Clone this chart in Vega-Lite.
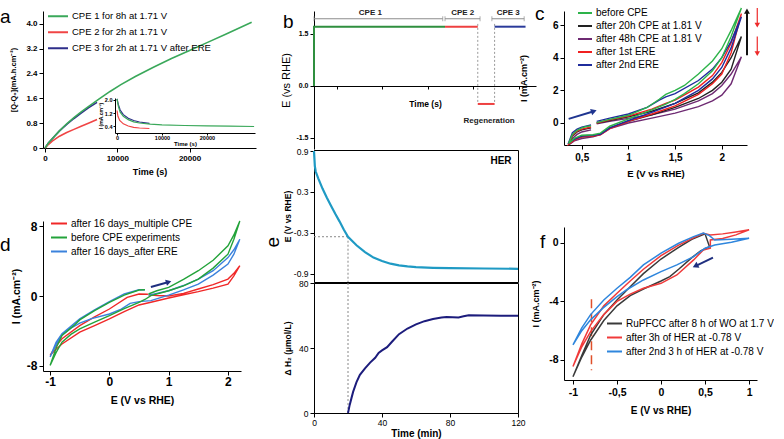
{
"$schema": "https://vega.github.io/schema/vega-lite/v6.json",
"padding": {"left": 0, "top": 5, "right": 0, "bottom": 0},
"background": "white",
"config": {
  "view": {"stroke": null},
  "font": "Liberation Sans",
  "axis": {"grid": false, "domainColor": "#000", "tickColor": "#000", "labelColor": "#000", "titleColor": "#000", "labelFont": "Liberation Sans", "titleFont": "Liberation Sans", "labelFontWeight": "bold", "titleFontWeight": "bold", "labelFlush": false, "labelOverlap": false, "tickSize": 4, "labelPadding": 2},
  "legend": {"labelFont": "Liberation Sans", "labelColor": "#000", "symbolType": "stroke", "symbolStrokeWidth": 2, "padding": 0, "rowPadding": 2, "labelOffset": 3},
  "title": {"font": "Liberation Sans", "fontWeight": "normal", "fontSize": 19, "anchor": "start", "frame": "bounds", "offset": 0, "baseline": "alphabetic", "color": "#000"}
},
"datasets": {
  "a": [
    {"s":"CPE 3 for 2h at 1.71 V after ERE","t":0,"q":0},{"s":"CPE 3 for 2h at 1.71 V after ERE","t":500,"q":0.17},{"s":"CPE 3 for 2h at 1.71 V after ERE","t":1000,"q":0.3},{"s":"CPE 3 for 2h at 1.71 V after ERE","t":2000,"q":0.55},{"s":"CPE 3 for 2h at 1.71 V after ERE","t":3000,"q":0.76},{"s":"CPE 3 for 2h at 1.71 V after ERE","t":4000,"q":0.95},{"s":"CPE 3 for 2h at 1.71 V after ERE","t":5000,"q":1.12},{"s":"CPE 3 for 2h at 1.71 V after ERE","t":6000,"q":1.29},{"s":"CPE 3 for 2h at 1.71 V after ERE","t":7200,"q":1.47},
    {"s":"CPE 2 for 2h at 1.71 V","t":0,"q":0},{"s":"CPE 2 for 2h at 1.71 V","t":500,"q":0.12},{"s":"CPE 2 for 2h at 1.71 V","t":1000,"q":0.22},{"s":"CPE 2 for 2h at 1.71 V","t":2000,"q":0.38},{"s":"CPE 2 for 2h at 1.71 V","t":3000,"q":0.5},{"s":"CPE 2 for 2h at 1.71 V","t":4000,"q":0.6},{"s":"CPE 2 for 2h at 1.71 V","t":5000,"q":0.7},{"s":"CPE 2 for 2h at 1.71 V","t":6000,"q":0.8},{"s":"CPE 2 for 2h at 1.71 V","t":7200,"q":0.92},
    {"s":"CPE 1 for 8h at 1.71 V","t":0,"q":0},{"s":"CPE 1 for 8h at 1.71 V","t":500,"q":0.17},{"s":"CPE 1 for 8h at 1.71 V","t":1000,"q":0.3},{"s":"CPE 1 for 8h at 1.71 V","t":2000,"q":0.55},{"s":"CPE 1 for 8h at 1.71 V","t":3000,"q":0.78},{"s":"CPE 1 for 8h at 1.71 V","t":4000,"q":0.98},{"s":"CPE 1 for 8h at 1.71 V","t":5000,"q":1.16},{"s":"CPE 1 for 8h at 1.71 V","t":6000,"q":1.33},{"s":"CPE 1 for 8h at 1.71 V","t":7500,"q":1.58},{"s":"CPE 1 for 8h at 1.71 V","t":9000,"q":1.82},{"s":"CPE 1 for 8h at 1.71 V","t":10500,"q":2.04},{"s":"CPE 1 for 8h at 1.71 V","t":12500,"q":2.3},{"s":"CPE 1 for 8h at 1.71 V","t":15000,"q":2.6},{"s":"CPE 1 for 8h at 1.71 V","t":17500,"q":2.88},{"s":"CPE 1 for 8h at 1.71 V","t":20000,"q":3.14},{"s":"CPE 1 for 8h at 1.71 V","t":22500,"q":3.4},{"s":"CPE 1 for 8h at 1.71 V","t":25000,"q":3.66},{"s":"CPE 1 for 8h at 1.71 V","t":28600,"q":4.05}
  ],
  "ai": [
    {"s":"CPE 3 for 2h at 1.71 V after ERE","t":0,"i":2.05},{"s":"CPE 3 for 2h at 1.71 V after ERE","t":300,"i":1.7},{"s":"CPE 3 for 2h at 1.71 V after ERE","t":700,"i":1.38},{"s":"CPE 3 for 2h at 1.71 V after ERE","t":1400,"i":1.1},{"s":"CPE 3 for 2h at 1.71 V after ERE","t":2500,"i":0.88},{"s":"CPE 3 for 2h at 1.71 V after ERE","t":3700,"i":0.75},{"s":"CPE 3 for 2h at 1.71 V after ERE","t":5000,"i":0.66},{"s":"CPE 3 for 2h at 1.71 V after ERE","t":7200,"i":0.58},
    {"s":"CPE 2 for 2h at 1.71 V","t":0,"i":1.35},{"s":"CPE 2 for 2h at 1.71 V","t":200,"i":1.0},{"s":"CPE 2 for 2h at 1.71 V","t":600,"i":0.75},{"s":"CPE 2 for 2h at 1.71 V","t":1400,"i":0.55},{"s":"CPE 2 for 2h at 1.71 V","t":2500,"i":0.42},{"s":"CPE 2 for 2h at 1.71 V","t":3700,"i":0.34},{"s":"CPE 2 for 2h at 1.71 V","t":5000,"i":0.3},{"s":"CPE 2 for 2h at 1.71 V","t":7200,"i":0.27},
    {"s":"CPE 1 for 8h at 1.71 V","t":0,"i":2.05},{"s":"CPE 1 for 8h at 1.71 V","t":300,"i":1.6},{"s":"CPE 1 for 8h at 1.71 V","t":700,"i":1.25},{"s":"CPE 1 for 8h at 1.71 V","t":1400,"i":1.0},{"s":"CPE 1 for 8h at 1.71 V","t":2500,"i":0.8},{"s":"CPE 1 for 8h at 1.71 V","t":3700,"i":0.67},{"s":"CPE 1 for 8h at 1.71 V","t":5000,"i":0.6},{"s":"CPE 1 for 8h at 1.71 V","t":7400,"i":0.53},{"s":"CPE 1 for 8h at 1.71 V","t":10000,"i":0.49},{"s":"CPE 1 for 8h at 1.71 V","t":15000,"i":0.45},{"s":"CPE 1 for 8h at 1.71 V","t":20000,"i":0.43},{"s":"CPE 1 for 8h at 1.71 V","t":25000,"i":0.41},{"s":"CPE 1 for 8h at 1.71 V","t":30500,"i":0.39}
  ],
  "b": [
    {"s":"g","t":0,"e":0,"o":1},{"s":"g","t":0,"e":1.71,"o":2},{"s":"g","t":28800,"e":1.71,"o":3},
    {"s":"r","t":28800,"e":1.71,"o":1},{"s":"r","t":36000,"e":1.71,"o":2},
    {"s":"rg","t":36000,"e":-0.52,"o":1},{"s":"rg","t":39700,"e":-0.52,"o":2},
    {"s":"bl","t":39700,"e":1.71,"o":1},{"s":"bl","t":46500,"e":1.71,"o":2}
  ],
  "bbr": [{"t1":0,"t2":28300,"y":1.94},{"t1":28800,"t2":36500,"y":1.94},{"t1":39100,"t2":46200,"y":1.94}],
  "bbrt": [{"t":0,"y":1.94},{"t":28300,"y":1.94},{"t":28800,"y":1.94},{"t":36500,"y":1.94},{"t":39100,"y":1.94},{"t":46200,"y":1.94}],
  "bdot": [{"t":36000,"y1":-0.46,"y2":1.85},{"t":39700,"y1":-0.46,"y2":1.85}],
  "blab": [{"t":12400,"y":2.1,"label":"CPE 1"},{"t":32700,"y":2.1,"label":"CPE 2"},{"t":42700,"y":2.1,"label":"CPE 3"},{"t":38500,"y":-1.0,"label":"Regeneration"}],
  "c": [
    {"s":"after 48h CPE at 1.81 V","o":1,"x":0.66,"y":-0.05},{"s":"after 48h CPE at 1.81 V","o":2,"x":0.8,"y":0.1},{"s":"after 48h CPE at 1.81 V","o":3,"x":1.0,"y":0.28},{"s":"after 48h CPE at 1.81 V","o":4,"x":1.25,"y":0.5},{"s":"after 48h CPE at 1.81 V","o":5,"x":1.5,"y":0.85},{"s":"after 48h CPE at 1.81 V","o":6,"x":1.75,"y":1.35},{"s":"after 48h CPE at 1.81 V","o":7,"x":1.9,"y":1.8},{"s":"after 48h CPE at 1.81 V","o":8,"x":2.0,"y":2.3},{"s":"after 48h CPE at 1.81 V","o":9,"x":2.1,"y":3.0},{"s":"after 48h CPE at 1.81 V","o":10,"x":2.21,"y":4.05},{"s":"after 48h CPE at 1.81 V","o":11,"x":2.1,"y":2.4},{"s":"after 48h CPE at 1.81 V","o":12,"x":2.0,"y":1.7},{"s":"after 48h CPE at 1.81 V","o":13,"x":1.9,"y":1.35},{"s":"after 48h CPE at 1.81 V","o":14,"x":1.75,"y":1.0},{"s":"after 48h CPE at 1.81 V","o":15,"x":1.5,"y":0.6},{"s":"after 48h CPE at 1.81 V","o":16,"x":1.25,"y":0.3},{"s":"after 48h CPE at 1.81 V","o":17,"x":1.0,"y":0.0},{"s":"after 48h CPE at 1.81 V","o":18,"x":0.8,"y":-0.35},{"s":"after 48h CPE at 1.81 V","o":19,"x":0.7,"y":-0.72},{"s":"after 48h CPE at 1.81 V","o":20,"x":0.62,"y":-0.85},{"s":"after 48h CPE at 1.81 V","o":21,"x":0.5,"y":-0.95},{"s":"after 48h CPE at 1.81 V","o":22,"x":0.42,"y":-1.1},{"s":"after 48h CPE at 1.81 V","o":23,"x":0.36,"y":-1.35},{"s":"after 48h CPE at 1.81 V","o":24,"x":0.4,"y":-0.95},{"s":"after 48h CPE at 1.81 V","o":25,"x":0.45,"y":-0.7},{"s":"after 48h CPE at 1.81 V","o":26,"x":0.5,"y":-0.55},{"s":"after 48h CPE at 1.81 V","o":27,"x":0.6,"y":-0.42},
    {"s":"after 20h CPE at 1.81 V","o":1,"x":0.66,"y":0.0},{"s":"after 20h CPE at 1.81 V","o":2,"x":0.8,"y":0.15},{"s":"after 20h CPE at 1.81 V","o":3,"x":1.0,"y":0.38},{"s":"after 20h CPE at 1.81 V","o":4,"x":1.25,"y":0.72},{"s":"after 20h CPE at 1.81 V","o":5,"x":1.5,"y":1.2},{"s":"after 20h CPE at 1.81 V","o":6,"x":1.75,"y":1.85},{"s":"after 20h CPE at 1.81 V","o":7,"x":1.9,"y":2.5},{"s":"after 20h CPE at 1.81 V","o":8,"x":2.0,"y":3.1},{"s":"after 20h CPE at 1.81 V","o":9,"x":2.1,"y":4.0},{"s":"after 20h CPE at 1.81 V","o":10,"x":2.21,"y":5.3},{"s":"after 20h CPE at 1.81 V","o":11,"x":2.1,"y":3.3},{"s":"after 20h CPE at 1.81 V","o":12,"x":2.0,"y":2.5},{"s":"after 20h CPE at 1.81 V","o":13,"x":1.9,"y":2.0},{"s":"after 20h CPE at 1.81 V","o":14,"x":1.75,"y":1.5},{"s":"after 20h CPE at 1.81 V","o":15,"x":1.5,"y":0.95},{"s":"after 20h CPE at 1.81 V","o":16,"x":1.25,"y":0.5},{"s":"after 20h CPE at 1.81 V","o":17,"x":1.0,"y":0.1},{"s":"after 20h CPE at 1.81 V","o":18,"x":0.8,"y":-0.3},{"s":"after 20h CPE at 1.81 V","o":19,"x":0.7,"y":-0.68},{"s":"after 20h CPE at 1.81 V","o":20,"x":0.62,"y":-0.8},{"s":"after 20h CPE at 1.81 V","o":21,"x":0.5,"y":-0.85},{"s":"after 20h CPE at 1.81 V","o":22,"x":0.42,"y":-1.0},{"s":"after 20h CPE at 1.81 V","o":23,"x":0.36,"y":-1.3},{"s":"after 20h CPE at 1.81 V","o":24,"x":0.4,"y":-0.8},{"s":"after 20h CPE at 1.81 V","o":25,"x":0.45,"y":-0.55},{"s":"after 20h CPE at 1.81 V","o":26,"x":0.5,"y":-0.42},{"s":"after 20h CPE at 1.81 V","o":27,"x":0.6,"y":-0.3},
    {"s":"after 1st ERE","o":1,"x":0.66,"y":0.0},{"s":"after 1st ERE","o":2,"x":0.8,"y":0.2},{"s":"after 1st ERE","o":3,"x":1.0,"y":0.42},{"s":"after 1st ERE","o":4,"x":1.25,"y":0.85},{"s":"after 1st ERE","o":5,"x":1.4,"y":1.2},{"s":"after 1st ERE","o":6,"x":1.5,"y":1.4},{"s":"after 1st ERE","o":7,"x":1.75,"y":2.2},{"s":"after 1st ERE","o":8,"x":1.9,"y":2.9},{"s":"after 1st ERE","o":9,"x":2.0,"y":3.7},{"s":"after 1st ERE","o":10,"x":2.1,"y":4.9},{"s":"after 1st ERE","o":11,"x":2.21,"y":6.7},{"s":"after 1st ERE","o":12,"x":2.1,"y":4.3},{"s":"after 1st ERE","o":13,"x":2.0,"y":3.0},{"s":"after 1st ERE","o":14,"x":1.9,"y":2.4},{"s":"after 1st ERE","o":15,"x":1.75,"y":1.75},{"s":"after 1st ERE","o":16,"x":1.5,"y":1.05},{"s":"after 1st ERE","o":17,"x":1.25,"y":0.55},{"s":"after 1st ERE","o":18,"x":1.0,"y":0.1},{"s":"after 1st ERE","o":19,"x":0.8,"y":-0.35},{"s":"after 1st ERE","o":20,"x":0.7,"y":-0.72},{"s":"after 1st ERE","o":21,"x":0.62,"y":-0.8},{"s":"after 1st ERE","o":22,"x":0.5,"y":-0.85},{"s":"after 1st ERE","o":23,"x":0.42,"y":-1.05},{"s":"after 1st ERE","o":24,"x":0.36,"y":-1.3},{"s":"after 1st ERE","o":25,"x":0.4,"y":-0.75},{"s":"after 1st ERE","o":26,"x":0.45,"y":-0.5},{"s":"after 1st ERE","o":27,"x":0.5,"y":-0.38},{"s":"after 1st ERE","o":28,"x":0.6,"y":-0.25},
    {"s":"after 2nd ERE","o":1,"x":0.66,"y":0.1},{"s":"after 2nd ERE","o":2,"x":0.8,"y":0.3},{"s":"after 2nd ERE","o":3,"x":1.0,"y":0.55},{"s":"after 2nd ERE","o":4,"x":1.2,"y":0.95},{"s":"after 2nd ERE","o":5,"x":1.33,"y":1.4},{"s":"after 2nd ERE","o":6,"x":1.4,"y":1.6},{"s":"after 2nd ERE","o":7,"x":1.5,"y":1.8},{"s":"after 2nd ERE","o":8,"x":1.75,"y":2.6},{"s":"after 2nd ERE","o":9,"x":1.9,"y":3.3},{"s":"after 2nd ERE","o":10,"x":2.0,"y":4.0},{"s":"after 2nd ERE","o":11,"x":2.1,"y":5.0},{"s":"after 2nd ERE","o":12,"x":2.21,"y":6.5},{"s":"after 2nd ERE","o":13,"x":2.1,"y":4.6},{"s":"after 2nd ERE","o":14,"x":2.0,"y":3.4},{"s":"after 2nd ERE","o":15,"x":1.9,"y":2.7},{"s":"after 2nd ERE","o":16,"x":1.75,"y":2.0},{"s":"after 2nd ERE","o":17,"x":1.5,"y":1.2},{"s":"after 2nd ERE","o":18,"x":1.25,"y":0.65},{"s":"after 2nd ERE","o":19,"x":1.0,"y":0.15},{"s":"after 2nd ERE","o":20,"x":0.8,"y":-0.3},{"s":"after 2nd ERE","o":21,"x":0.7,"y":-0.7},{"s":"after 2nd ERE","o":22,"x":0.62,"y":-0.75},{"s":"after 2nd ERE","o":23,"x":0.5,"y":-0.8},{"s":"after 2nd ERE","o":24,"x":0.42,"y":-1.0},{"s":"after 2nd ERE","o":25,"x":0.36,"y":-1.2},{"s":"after 2nd ERE","o":26,"x":0.4,"y":-0.6},{"s":"after 2nd ERE","o":27,"x":0.45,"y":-0.38},{"s":"after 2nd ERE","o":28,"x":0.5,"y":-0.25},{"s":"after 2nd ERE","o":29,"x":0.6,"y":-0.12},
    {"s":"before CPE","o":1,"x":0.66,"y":0.02},{"s":"before CPE","o":2,"x":0.8,"y":0.22},{"s":"before CPE","o":3,"x":1.0,"y":0.47},{"s":"before CPE","o":4,"x":1.2,"y":0.95},{"s":"before CPE","o":5,"x":1.33,"y":1.45},{"s":"before CPE","o":6,"x":1.4,"y":1.75},{"s":"before CPE","o":7,"x":1.5,"y":2.0},{"s":"before CPE","o":8,"x":1.6,"y":2.3},{"s":"before CPE","o":9,"x":1.75,"y":3.0},{"s":"before CPE","o":10,"x":1.9,"y":3.8},{"s":"before CPE","o":11,"x":2.0,"y":4.55},{"s":"before CPE","o":12,"x":2.1,"y":5.67},{"s":"before CPE","o":13,"x":2.21,"y":7.04},{"s":"before CPE","o":14,"x":2.1,"y":5.3},{"s":"before CPE","o":15,"x":2.0,"y":4.0},{"s":"before CPE","o":16,"x":1.9,"y":3.2},{"s":"before CPE","o":17,"x":1.75,"y":2.4},{"s":"before CPE","o":18,"x":1.6,"y":1.8},{"s":"before CPE","o":19,"x":1.5,"y":1.45},{"s":"before CPE","o":20,"x":1.4,"y":1.15},{"s":"before CPE","o":21,"x":1.25,"y":0.8},{"s":"before CPE","o":22,"x":1.0,"y":0.25},{"s":"before CPE","o":23,"x":0.8,"y":-0.2},{"s":"before CPE","o":24,"x":0.7,"y":-0.62},{"s":"before CPE","o":25,"x":0.62,"y":-0.72},{"s":"before CPE","o":26,"x":0.5,"y":-0.75},{"s":"before CPE","o":27,"x":0.42,"y":-0.95},{"s":"before CPE","o":28,"x":0.36,"y":-1.25},{"s":"before CPE","o":29,"x":0.4,"y":-0.7},{"s":"before CPE","o":30,"x":0.45,"y":-0.45},{"s":"before CPE","o":31,"x":0.5,"y":-0.3},{"s":"before CPE","o":32,"x":0.55,"y":-0.22},{"s":"before CPE","o":33,"x":0.6,"y":-0.18}
  ],
  "carr": [{"id":"bl","x":0.36,"y":0.25,"x2":0.63,"y2":0.72},{"id":"k","x":2.27,"y":4.15,"x2":2.27,"y2":6.85},{"id":"r","x":2.38,"y":7.05,"x2":2.38,"y2":6.0},{"id":"r","x":2.38,"y":5.3,"x2":2.38,"y2":4.25}],
  "d": [
    {"s":"after 16 days_multiple CPE","o":1,"x":0.66,"y":0.15},{"s":"after 16 days_multiple CPE","o":2,"x":0.8,"y":0.05},{"s":"after 16 days_multiple CPE","o":3,"x":1.0,"y":0.0},{"s":"after 16 days_multiple CPE","o":4,"x":1.25,"y":0.3},{"s":"after 16 days_multiple CPE","o":5,"x":1.5,"y":0.8},{"s":"after 16 days_multiple CPE","o":6,"x":1.75,"y":1.3},{"s":"after 16 days_multiple CPE","o":7,"x":2.0,"y":1.94},{"s":"after 16 days_multiple CPE","o":8,"x":2.1,"y":2.6},{"s":"after 16 days_multiple CPE","o":9,"x":2.2,"y":3.47},{"s":"after 16 days_multiple CPE","o":10,"x":2.1,"y":2.3},{"s":"after 16 days_multiple CPE","o":11,"x":2.0,"y":1.37},{"s":"after 16 days_multiple CPE","o":12,"x":1.75,"y":0.9},{"s":"after 16 days_multiple CPE","o":13,"x":1.5,"y":0.5},{"s":"after 16 days_multiple CPE","o":14,"x":1.25,"y":0.15},{"s":"after 16 days_multiple CPE","o":15,"x":1.0,"y":-0.23},{"s":"after 16 days_multiple CPE","o":16,"x":0.7,"y":-0.72},{"s":"after 16 days_multiple CPE","o":17,"x":0.5,"y":-1.03},{"s":"after 16 days_multiple CPE","o":18,"x":0.25,"y":-1.8},{"s":"after 16 days_multiple CPE","o":19,"x":0.0,"y":-2.63},{"s":"after 16 days_multiple CPE","o":20,"x":-0.25,"y":-3.4},{"s":"after 16 days_multiple CPE","o":21,"x":-0.5,"y":-4.15},{"s":"after 16 days_multiple CPE","o":22,"x":-0.8,"y":-5.5},{"s":"after 16 days_multiple CPE","o":23,"x":-0.9,"y":-6.1},{"s":"after 16 days_multiple CPE","o":24,"x":-1.0,"y":-6.8},{"s":"after 16 days_multiple CPE","o":25,"x":-0.9,"y":-5.7},{"s":"after 16 days_multiple CPE","o":26,"x":-0.8,"y":-4.9},{"s":"after 16 days_multiple CPE","o":27,"x":-0.5,"y":-3.39},{"s":"after 16 days_multiple CPE","o":28,"x":-0.25,"y":-2.4},{"s":"after 16 days_multiple CPE","o":29,"x":0.0,"y":-1.49},{"s":"after 16 days_multiple CPE","o":30,"x":0.3,"y":-0.15},{"s":"after 16 days_multiple CPE","o":31,"x":0.5,"y":0.23},{"s":"after 16 days_multiple CPE","o":32,"x":0.65,"y":0.2},
    {"s":"after 16 days_after ERE","o":1,"x":0.66,"y":0.1},{"s":"after 16 days_after ERE","o":2,"x":0.8,"y":0.3},{"s":"after 16 days_after ERE","o":3,"x":1.0,"y":0.6},{"s":"after 16 days_after ERE","o":4,"x":1.25,"y":1.2},{"s":"after 16 days_after ERE","o":5,"x":1.5,"y":1.94},{"s":"after 16 days_after ERE","o":6,"x":1.75,"y":2.9},{"s":"after 16 days_after ERE","o":7,"x":2.0,"y":4.4},{"s":"after 16 days_after ERE","o":8,"x":2.1,"y":5.3},{"s":"after 16 days_after ERE","o":9,"x":2.2,"y":6.5},{"s":"after 16 days_after ERE","o":10,"x":2.1,"y":4.8},{"s":"after 16 days_after ERE","o":11,"x":2.0,"y":3.66},{"s":"after 16 days_after ERE","o":12,"x":1.75,"y":2.4},{"s":"after 16 days_after ERE","o":13,"x":1.5,"y":1.37},{"s":"after 16 days_after ERE","o":14,"x":1.25,"y":0.7},{"s":"after 16 days_after ERE","o":15,"x":1.0,"y":0.1},{"s":"after 16 days_after ERE","o":16,"x":0.7,"y":-0.53},{"s":"after 16 days_after ERE","o":17,"x":0.5,"y":-0.65},{"s":"after 16 days_after ERE","o":18,"x":0.35,"y":-0.85},{"s":"after 16 days_after ERE","o":19,"x":0.2,"y":-1.5},{"s":"after 16 days_after ERE","o":20,"x":0.0,"y":-2.06},{"s":"after 16 days_after ERE","o":21,"x":-0.3,"y":-2.6},{"s":"after 16 days_after ERE","o":22,"x":-0.5,"y":-3.1},{"s":"after 16 days_after ERE","o":23,"x":-0.65,"y":-3.7},{"s":"after 16 days_after ERE","o":24,"x":-0.8,"y":-4.5},{"s":"after 16 days_after ERE","o":25,"x":-0.9,"y":-5.6},{"s":"after 16 days_after ERE","o":26,"x":-1.0,"y":-7.0},{"s":"after 16 days_after ERE","o":27,"x":-0.9,"y":-5.3},{"s":"after 16 days_after ERE","o":28,"x":-0.8,"y":-4.34},{"s":"after 16 days_after ERE","o":29,"x":-0.6,"y":-3.2},{"s":"after 16 days_after ERE","o":30,"x":-0.5,"y":-2.63},{"s":"after 16 days_after ERE","o":31,"x":-0.25,"y":-1.6},{"s":"after 16 days_after ERE","o":32,"x":0.0,"y":-0.65},{"s":"after 16 days_after ERE","o":33,"x":0.25,"y":0.23},{"s":"after 16 days_after ERE","o":34,"x":0.5,"y":0.72},{"s":"after 16 days_after ERE","o":35,"x":0.6,"y":0.7},
    {"s":"before CPE experiments","o":1,"x":0.66,"y":0.23},{"s":"before CPE experiments","o":2,"x":0.8,"y":0.6},{"s":"before CPE experiments","o":3,"x":1.0,"y":0.99},{"s":"before CPE experiments","o":4,"x":1.25,"y":1.9},{"s":"before CPE experiments","o":5,"x":1.5,"y":2.9},{"s":"before CPE experiments","o":6,"x":1.75,"y":4.1},{"s":"before CPE experiments","o":7,"x":2.0,"y":5.75},{"s":"before CPE experiments","o":8,"x":2.1,"y":7.0},{"s":"before CPE experiments","o":9,"x":2.2,"y":8.6},{"s":"before CPE experiments","o":10,"x":2.1,"y":6.5},{"s":"before CPE experiments","o":11,"x":2.0,"y":4.8},{"s":"before CPE experiments","o":12,"x":1.75,"y":3.2},{"s":"before CPE experiments","o":13,"x":1.5,"y":1.94},{"s":"before CPE experiments","o":14,"x":1.25,"y":1.15},{"s":"before CPE experiments","o":15,"x":1.0,"y":0.6},{"s":"before CPE experiments","o":16,"x":0.7,"y":0.04},{"s":"before CPE experiments","o":17,"x":0.6,"y":-0.4},{"s":"before CPE experiments","o":18,"x":0.5,"y":-0.72},{"s":"before CPE experiments","o":19,"x":0.25,"y":-1.45},{"s":"before CPE experiments","o":20,"x":0.0,"y":-2.25},{"s":"before CPE experiments","o":21,"x":-0.25,"y":-3.0},{"s":"before CPE experiments","o":22,"x":-0.5,"y":-3.77},{"s":"before CPE experiments","o":23,"x":-0.65,"y":-4.4},{"s":"before CPE experiments","o":24,"x":-0.8,"y":-5.3},{"s":"before CPE experiments","o":25,"x":-0.9,"y":-6.5},{"s":"before CPE experiments","o":26,"x":-1.0,"y":-7.96},{"s":"before CPE experiments","o":27,"x":-0.9,"y":-6.0},{"s":"before CPE experiments","o":28,"x":-0.8,"y":-4.53},{"s":"before CPE experiments","o":29,"x":-0.6,"y":-3.4},{"s":"before CPE experiments","o":30,"x":-0.5,"y":-2.74},{"s":"before CPE experiments","o":31,"x":-0.25,"y":-1.68},{"s":"before CPE experiments","o":32,"x":0.0,"y":-0.72},{"s":"before CPE experiments","o":33,"x":0.25,"y":0.11},{"s":"before CPE experiments","o":34,"x":0.5,"y":0.69},{"s":"before CPE experiments","o":35,"x":0.6,"y":0.72}
  ],
  "darr": [{"x":0.7,"y":1.03,"x2":1.0,"y2":1.6}],
  "etop": [{"t":0,"E":0.9},{"t":0.5,"E":0.68},{"t":1,"E":0.6},{"t":2.5,"E":0.5},{"t":5,"E":0.35},{"t":7.5,"E":0.22},{"t":10,"E":0.1},{"t":12.5,"E":-0.02},{"t":15,"E":-0.13},{"t":17.5,"E":-0.25},{"t":20,"E":-0.355},{"t":25,"E":-0.48},{"t":30,"E":-0.58},{"t":35,"E":-0.66},{"t":40,"E":-0.71},{"t":45,"E":-0.75},{"t":50,"E":-0.775},{"t":55,"E":-0.79},{"t":60,"E":-0.8},{"t":70,"E":-0.81},{"t":80,"E":-0.815},{"t":100,"E":-0.82},{"t":120,"E":-0.825}],
  "ebot": [{"t":20,"H":0},{"t":21,"H":5},{"t":22,"H":9},{"t":23,"H":13},{"t":25,"H":19},{"t":27,"H":23.5},{"t":30,"H":27.5},{"t":33,"H":31},{"t":36,"H":34},{"t":38,"H":37},{"t":40,"H":38.5},{"t":43,"H":40.5},{"t":46,"H":44},{"t":50,"H":48.5},{"t":55,"H":52},{"t":60,"H":54.5},{"t":65,"H":56.5},{"t":70,"H":57.8},{"t":75,"H":58.7},{"t":78,"H":59},{"t":85,"H":58.8},{"t":88,"H":59.5},{"t":91,"H":60.2},{"t":100,"H":60},{"t":110,"H":59.8},{"t":120,"H":59.8}],
  "eh": [{"t1":0,"t2":20,"y":-0.355}],
  "ev": [{"t":20,"y1":-0.355,"y2":-1.018}],
  "ev2": [{"t":20,"y1":0,"y2":80}],
  "eher": [{"t":110,"y":0.75,"label":"HER"}],
  "f": [
    {"s":"RuPFCC after 8 h of WO at 1.7 V","o":1,"x":-1,"y":-9.15},{"s":"RuPFCC after 8 h of WO at 1.7 V","o":2,"x":-0.9,"y":-7.7},{"s":"RuPFCC after 8 h of WO at 1.7 V","o":3,"x":-0.8,"y":-6.3},{"s":"RuPFCC after 8 h of WO at 1.7 V","o":4,"x":-0.65,"y":-4.9},{"s":"RuPFCC after 8 h of WO at 1.7 V","o":5,"x":-0.5,"y":-3.9},{"s":"RuPFCC after 8 h of WO at 1.7 V","o":6,"x":-0.35,"y":-3.0},{"s":"RuPFCC after 8 h of WO at 1.7 V","o":7,"x":-0.2,"y":-2.1},{"s":"RuPFCC after 8 h of WO at 1.7 V","o":8,"x":0,"y":-1.1},{"s":"RuPFCC after 8 h of WO at 1.7 V","o":9,"x":0.2,"y":-0.3},{"s":"RuPFCC after 8 h of WO at 1.7 V","o":10,"x":0.35,"y":0.25},{"s":"RuPFCC after 8 h of WO at 1.7 V","o":11,"x":0.5,"y":0.62},{"s":"RuPFCC after 8 h of WO at 1.7 V","o":12,"x":0.55,"y":-0.25},{"s":"RuPFCC after 8 h of WO at 1.7 V","o":13,"x":0.45,"y":-0.55},{"s":"RuPFCC after 8 h of WO at 1.7 V","o":14,"x":0.35,"y":-1.0},{"s":"RuPFCC after 8 h of WO at 1.7 V","o":15,"x":0.2,"y":-1.8},{"s":"RuPFCC after 8 h of WO at 1.7 V","o":16,"x":0.1,"y":-2.3},{"s":"RuPFCC after 8 h of WO at 1.7 V","o":17,"x":0,"y":-2.6},{"s":"RuPFCC after 8 h of WO at 1.7 V","o":18,"x":-0.2,"y":-3.15},{"s":"RuPFCC after 8 h of WO at 1.7 V","o":19,"x":-0.35,"y":-3.6},{"s":"RuPFCC after 8 h of WO at 1.7 V","o":20,"x":-0.5,"y":-4.3},{"s":"RuPFCC after 8 h of WO at 1.7 V","o":21,"x":-0.65,"y":-5.3},{"s":"RuPFCC after 8 h of WO at 1.7 V","o":22,"x":-0.8,"y":-6.65},{"s":"RuPFCC after 8 h of WO at 1.7 V","o":23,"x":-0.9,"y":-7.8},{"s":"RuPFCC after 8 h of WO at 1.7 V","o":24,"x":-1,"y":-9.15},
    {"s":"after 3h of HER at -0.78 V","o":1,"x":-1,"y":-8.45},{"s":"after 3h of HER at -0.78 V","o":2,"x":-0.9,"y":-6.9},{"s":"after 3h of HER at -0.78 V","o":3,"x":-0.8,"y":-5.6},{"s":"after 3h of HER at -0.78 V","o":4,"x":-0.65,"y":-4.3},{"s":"after 3h of HER at -0.78 V","o":5,"x":-0.5,"y":-3.44},{"s":"after 3h of HER at -0.78 V","o":6,"x":-0.35,"y":-2.6},{"s":"after 3h of HER at -0.78 V","o":7,"x":-0.2,"y":-1.8},{"s":"after 3h of HER at -0.78 V","o":8,"x":0,"y":-0.87},{"s":"after 3h of HER at -0.78 V","o":9,"x":0.2,"y":-0.15},{"s":"after 3h of HER at -0.78 V","o":10,"x":0.35,"y":0.3},{"s":"after 3h of HER at -0.78 V","o":11,"x":0.48,"y":0.66},{"s":"after 3h of HER at -0.78 V","o":12,"x":0.56,"y":0.55},{"s":"after 3h of HER at -0.78 V","o":13,"x":0.7,"y":0.62},{"s":"after 3h of HER at -0.78 V","o":14,"x":0.85,"y":0.75},{"s":"after 3h of HER at -0.78 V","o":15,"x":1.0,"y":0.9},{"s":"after 3h of HER at -0.78 V","o":16,"x":0.85,"y":0.55},{"s":"after 3h of HER at -0.78 V","o":17,"x":0.7,"y":0.3},{"s":"after 3h of HER at -0.78 V","o":18,"x":0.56,"y":0.2},{"s":"after 3h of HER at -0.78 V","o":19,"x":0.56,"y":-0.36},{"s":"after 3h of HER at -0.78 V","o":20,"x":0.48,"y":-0.48},{"s":"after 3h of HER at -0.78 V","o":21,"x":0.37,"y":-1.16},{"s":"after 3h of HER at -0.78 V","o":22,"x":0.18,"y":-2.19},{"s":"after 3h of HER at -0.78 V","o":23,"x":0,"y":-2.76},{"s":"after 3h of HER at -0.78 V","o":24,"x":-0.2,"y":-3.1},{"s":"after 3h of HER at -0.78 V","o":25,"x":-0.35,"y":-3.5},{"s":"after 3h of HER at -0.78 V","o":26,"x":-0.5,"y":-4.0},{"s":"after 3h of HER at -0.78 V","o":27,"x":-0.65,"y":-4.9},{"s":"after 3h of HER at -0.78 V","o":28,"x":-0.8,"y":-6.06},{"s":"after 3h of HER at -0.78 V","o":29,"x":-0.9,"y":-7.1},{"s":"after 3h of HER at -0.78 V","o":30,"x":-1,"y":-8.45},
    {"s":"after 2nd 3 h of HER at -0.78 V","o":1,"x":-1,"y":-6.97},{"s":"after 2nd 3 h of HER at -0.78 V","o":2,"x":-0.9,"y":-5.8},{"s":"after 2nd 3 h of HER at -0.78 V","o":3,"x":-0.8,"y":-4.9},{"s":"after 2nd 3 h of HER at -0.78 V","o":4,"x":-0.65,"y":-3.9},{"s":"after 2nd 3 h of HER at -0.78 V","o":5,"x":-0.5,"y":-3.1},{"s":"after 2nd 3 h of HER at -0.78 V","o":6,"x":-0.35,"y":-2.35},{"s":"after 2nd 3 h of HER at -0.78 V","o":7,"x":-0.2,"y":-1.5},{"s":"after 2nd 3 h of HER at -0.78 V","o":8,"x":0,"y":-0.7},{"s":"after 2nd 3 h of HER at -0.78 V","o":9,"x":0.2,"y":-0.02},{"s":"after 2nd 3 h of HER at -0.78 V","o":10,"x":0.37,"y":0.43},{"s":"after 2nd 3 h of HER at -0.78 V","o":11,"x":0.48,"y":0.68},{"s":"after 2nd 3 h of HER at -0.78 V","o":12,"x":0.55,"y":0.5},{"s":"after 2nd 3 h of HER at -0.78 V","o":13,"x":0.61,"y":0.2},{"s":"after 2nd 3 h of HER at -0.78 V","o":14,"x":0.8,"y":0.26},{"s":"after 2nd 3 h of HER at -0.78 V","o":15,"x":1.0,"y":0.32},{"s":"after 2nd 3 h of HER at -0.78 V","o":16,"x":0.8,"y":0.05},{"s":"after 2nd 3 h of HER at -0.78 V","o":17,"x":0.61,"y":-0.14},{"s":"after 2nd 3 h of HER at -0.78 V","o":18,"x":0.5,"y":-0.36},{"s":"after 2nd 3 h of HER at -0.78 V","o":19,"x":0.37,"y":-0.93},{"s":"after 2nd 3 h of HER at -0.78 V","o":20,"x":0.18,"y":-1.5},{"s":"after 2nd 3 h of HER at -0.78 V","o":21,"x":0,"y":-1.96},{"s":"after 2nd 3 h of HER at -0.78 V","o":22,"x":-0.2,"y":-2.53},{"s":"after 2nd 3 h of HER at -0.78 V","o":23,"x":-0.39,"y":-3.2},{"s":"after 2nd 3 h of HER at -0.78 V","o":24,"x":-0.5,"y":-3.67},{"s":"after 2nd 3 h of HER at -0.78 V","o":25,"x":-0.66,"y":-4.46},{"s":"after 2nd 3 h of HER at -0.78 V","o":26,"x":-0.8,"y":-5.26},{"s":"after 2nd 3 h of HER at -0.78 V","o":27,"x":-0.9,"y":-6.0},{"s":"after 2nd 3 h of HER at -0.78 V","o":28,"x":-1,"y":-6.97}
  ],
  "farr": [{"x":0.59,"y":-1.0,"x2":0.39,"y2":-1.58}],
  "fdash": [{"x":-0.79,"y":-3.85,"y2":-8.7}]
},
"hconcat": [
  {"concat": [
    {"width": 213, "height": 137,
     "title": {"text": "a", "dx": -9, "offset": -22},
     "layer": [
      {"data": {"name": "a"}, "mark": {"type": "line", "strokeWidth": 1.6},
       "encoding": {
        "x": {"field": "t", "type": "quantitative", "scale": {"domain": [-280, 29200], "nice": false, "zero": false}, "axis": {"values": [0, 10000, 20000], "format": "d", "title": "Time (s)", "labelFontSize": 8, "titleFontSize": 9, "titlePadding": 5}},
        "y": {"field": "q", "type": "quantitative", "scale": {"domain": [0, 4.41], "nice": false}, "axis": {"values": [0, 0.8, 1.6, 2.4, 3.2, 4.0], "labelExpr": "datum.value == 0 ? '0' : format(datum.value, '.1f')", "title": "[Q-Q₀](mA.h.cm⁻²)", "labelFontSize": 8, "titleFontSize": 7.5, "minExtent": 18, "maxExtent": 18, "titlePadding": 8}},
        "color": {"field": "s", "type": "nominal", "scale": {"domain": ["CPE 1 for 8h at 1.71 V", "CPE 2 for 2h at 1.71 V", "CPE 3 for 2h at 1.71 V after ERE"], "range": ["#3aa85a", "#f04545", "#2e2e8a"]}, "legend": {"title": null, "orient": "none", "legendX": 4, "legendY": -5.75, "labelFontSize": 9.5, "symbolSize": 400, "rowPadding": -7.5}}
       }},
      {"data": {"name": "ai"}, "mark": {"type": "line", "strokeWidth": 1.2},
       "encoding": {
        "x": {"field": "t", "type": "quantitative", "scale": {"domain": [-450, 30700], "range": [72, 212], "nice": false, "zero": false}, "axis": {"orient": "bottom", "offset": -15, "values": [0, 10000, 20000], "format": "d", "title": "Time (s)", "labelFontSize": 5.5, "titleFontSize": 6, "tickSize": 2, "labelPadding": 0, "titlePadding": 0}},
        "y": {"field": "i", "type": "quantitative", "scale": {"domain": [0, 2.1], "range": [122, 87], "nice": false}, "axis": {"orient": "left", "offset": -72, "values": [0.4, 1.2, 2.0], "format": ".1f", "title": "I (mA.cm⁻²)", "labelFontSize": 5.5, "titleFontSize": 5, "tickSize": 2, "labelPadding": 1, "titlePadding": 1}},
        "color": {"field": "s", "type": "nominal", "scale": {"domain": ["CPE 1 for 8h at 1.71 V", "CPE 2 for 2h at 1.71 V", "CPE 3 for 2h at 1.71 V after ERE"], "range": ["#3aa85a", "#f04545", "#2e2e8a"]}, "legend": null}
       }}
     ],
     "resolve": {"scale": {"x": "independent", "y": "independent", "color": "independent"}, "axis": {"x": "independent", "y": "independent"}, "legend": {"color": "independent"}}
    },
    {"width": 198, "height": 150,
     "title": {"text": "d", "dx": -11, "offset": -40},
     "layer": [
      {"data": {"name": "d"}, "mark": {"type": "line", "strokeWidth": 1.4},
       "encoding": {
        "x": {"field": "x", "type": "quantitative", "scale": {"domain": [-1.12, 2.22], "nice": false, "zero": false}, "axis": {"values": [-1, -0.5, 0, 0.5, 1, 1.5, 2], "labelExpr": "replace(replace(format(datum.value, datum.value % 1 == 0 ? 'd' : '.1f'), '.', ','), '−', '-')", "title": "E (V vs RHE)", "labelFontSize": 12, "titleFontSize": 10.5, "labelPadding": 1, "titlePadding": 8}},
        "y": {"field": "y", "type": "quantitative", "scale": {"domain": [-8.6, 8.6], "nice": false}, "axis": {"values": [-8, -4, 0, 4, 8], "labelExpr": "replace(format(datum.value, 'd'), '−', '-')", "title": "I (mA.cm⁻²)", "labelFontSize": 12, "titleFontSize": 10.5, "minExtent": 17, "maxExtent": 17, "titlePadding": 5}},
        "color": {"field": "s", "type": "nominal", "scale": {"domain": ["after 16 days_multiple CPE", "before CPE experiments", "after 16 days_after ERE"], "range": ["#f02828", "#23a33a", "#3b82dc"]}, "legend": {"title": null, "orient": "none", "legendX": 7, "legendY": -6.5, "labelFontSize": 10, "symbolSize": 256, "rowPadding": -6}},
        "order": {"field": "o", "type": "quantitative"}
       }},
      {"data": {"name": "darr"}, "mark": {"type": "rule", "color": "#1f2f7f", "strokeWidth": 2}, "encoding": {"x": {"field": "x", "type": "quantitative"}, "y": {"field": "y", "type": "quantitative"}, "x2": {"field": "x2"}, "y2": {"field": "y2"}}},
      {"data": {"name": "darr"}, "mark": {"type": "point", "shape": "triangle-right", "angle": -17, "filled": true, "color": "#1f2f7f", "size": 40, "opacity": 1}, "encoding": {"x": {"field": "x2", "type": "quantitative"}, "y": {"field": "y2", "type": "quantitative"}}}
     ]
    }
   ], "columns": 1, "align": "none", "spacing": 38,
   "resolve": {"scale": {"x": "independent", "y": "independent", "color": "independent"}, "axis": {"x": "independent", "y": "independent"}, "legend": {"color": "independent"}}
  },
  {"hconcat": [
  {"concat": [
    {"width": 222, "height": 138,
     "title": {"text": "b", "dx": 3, "offset": -23},
     "layer": [
      {"data": {"name": "bdot"}, "mark": {"type": "rule", "strokeDash": [2, 2], "color": "#999999", "strokeWidth": 1},
       "encoding": {
        "x": {"field": "t", "type": "quantitative", "scale": {"domain": [0, 48800], "nice": false, "zero": false}, "axis": {"values": [5000, 10000, 15000, 20000, 25000, 30000, 35000, 40000, 45000], "labelExpr": "datum.value % 10000 == 0 ? format(datum.value, 'd') : ''", "offset": -63, "title": "Time (s)", "labelFontSize": 6.5, "titleFontSize": 8.5, "tickSize": 3, "labelPadding": 2, "titlePadding": 2}},
        "y": {"field": "y1", "type": "quantitative", "scale": {"domain": [-1.82, 2.163], "nice": false}, "axis": {"values": [-1.5, -0.75, 0, 0.75, 1.5], "labelExpr": "datum.value == 0 ? '0.0' : replace(format(datum.value, abs(datum.value) == 1.5 ? '.1f' : '.2f'), '−', '-')", "title": "E (vs RHE)", "titleFontWeight": "normal", "titleFontSize": 11, "labelFontSize": 7, "minExtent": 22, "maxExtent": 22, "titlePadding": 1}},
        "y2": {"field": "y2"}
       }},
      {"data": {"name": "bbr"}, "mark": {"type": "rule", "color": "#8c8c8c", "strokeWidth": 1.2}, "encoding": {"x": {"field": "t1", "type": "quantitative"}, "x2": {"field": "t2"}, "y": {"field": "y", "type": "quantitative"}}},
      {"data": {"name": "bbrt"}, "mark": {"type": "tick", "orient": "vertical", "color": "#8c8c8c", "size": 5, "thickness": 1}, "encoding": {"x": {"field": "t", "type": "quantitative"}, "y": {"field": "y", "type": "quantitative"}}},
      {"data": {"name": "b"}, "mark": {"type": "line", "strokeWidth": 2}, "encoding": {"x": {"field": "t", "type": "quantitative"}, "y": {"field": "e", "type": "quantitative"}, "color": {"field": "s", "type": "nominal", "scale": {"domain": ["g", "r", "rg", "bl"], "range": ["#2f8f3f", "#ee4040", "#ee4040", "#2a3a9a"]}, "legend": null}, "order": {"field": "o", "type": "quantitative"}}},
      {"data": {"name": "blab"}, "mark": {"type": "text", "fontWeight": "bold", "fontSize": 8, "font": "Liberation Sans", "color": "#222"}, "encoding": {"x": {"field": "t", "type": "quantitative"}, "y": {"field": "y", "type": "quantitative"}, "text": {"field": "label"}}}
     ]
    },
    {"vconcat": [
      {"width": 204, "height": 132,
       "view": {"stroke": "#000", "strokeWidth": 1},
       "title": {"text": "e", "orient": "left", "anchor": "start", "angle": -90, "offset": 0, "dx": 35},
       "layer": [
        {"data": {"name": "eh"}, "mark": {"type": "rule", "strokeDash": [2, 2], "color": "#888888"},
         "encoding": {
          "x": {"field": "t1", "type": "quantitative", "scale": {"domain": [0, 120], "nice": false}, "axis": null},
          "x2": {"field": "t2"},
          "y": {"field": "y", "type": "quantitative", "scale": {"domain": [-1.018, 0.915], "nice": false}, "axis": {"values": [-0.9, -0.6, -0.3, 0, 0.3, 0.6, 0.9], "labelExpr": "replace(format(datum.value, '.1f'), '−', '-')", "title": "E (V vs RHE)", "labelFontSize": 8.5, "labelFontWeight": "normal", "titleFontSize": 8.5, "minExtent": 20, "maxExtent": 20, "titlePadding": 2}}
         }},
        {"data": {"name": "ev"}, "mark": {"type": "rule", "strokeDash": [2, 2], "color": "#888888"}, "encoding": {"x": {"field": "t", "type": "quantitative", "axis": null}, "y": {"field": "y1", "type": "quantitative"}, "y2": {"field": "y2"}}},
        {"data": {"name": "etop"}, "mark": {"type": "line", "color": "#1f9ac4", "strokeWidth": 2.2}, "encoding": {"x": {"field": "t", "type": "quantitative", "axis": null}, "y": {"field": "E", "type": "quantitative"}}},
        {"data": {"name": "eher"}, "mark": {"type": "text", "fontWeight": "bold", "fontSize": 10, "font": "Liberation Sans"}, "encoding": {"x": {"field": "t", "type": "quantitative", "axis": null}, "y": {"field": "y", "type": "quantitative"}, "text": {"field": "label"}}}
       ]
      },
      {"width": 204, "height": 130,
       "view": {"stroke": "#000", "strokeWidth": 1},
       "layer": [
        {"data": {"name": "ev2"}, "mark": {"type": "rule", "strokeDash": [2, 2], "color": "#888888"},
         "encoding": {
          "x": {"field": "t", "type": "quantitative", "scale": {"domain": [0, 120], "nice": false}, "axis": {"values": [0, 20, 40, 60, 80, 100, 120], "title": "Time (min)", "labelFontSize": 8.5, "labelFontWeight": "normal", "titleFontSize": 10, "labelPadding": 1, "titlePadding": 2}},
          "y": {"field": "y1", "type": "quantitative", "scale": {"domain": [0, 80], "nice": false}, "axis": {"values": [0, 20, 40, 60, 80], "title": "Δ H₂ (µmol/L)", "labelFontSize": 8.5, "labelFontWeight": "normal", "titleFontSize": 8.5, "minExtent": 20, "maxExtent": 20, "titlePadding": 2}},
          "y2": {"field": "y2"}
         }},
        {"data": {"name": "ebot"}, "mark": {"type": "line", "color": "#1c1c7c", "strokeWidth": 2}, "encoding": {"x": {"field": "t", "type": "quantitative"}, "y": {"field": "H", "type": "quantitative"}}}
       ]
      }
     ], "spacing": -7,
     "resolve": {"scale": {"x": "independent", "y": "independent"}, "axis": {"x": "independent", "y": "independent"}}
    }
   ], "columns": 1, "align": "none", "spacing": -3,
   "resolve": {"scale": {"x": "independent", "y": "independent", "color": "independent"}, "axis": {"x": "independent", "y": "independent"}, "legend": {"color": "independent"}}
  },
  {"concat": [
    {"width": 183, "height": 134,
     "title": {"text": "c", "dx": 16, "offset": -19},
     "layer": [
      {"data": {"name": "c"}, "mark": {"type": "line", "strokeWidth": 1.4},
       "encoding": {
        "x": {"field": "x", "type": "quantitative", "scale": {"domain": [0.31, 2.27], "nice": false, "zero": false}, "axis": {"values": [0.5, 1, 1.5, 2], "labelExpr": "replace(format(datum.value, datum.value % 1 == 0 ? 'd' : '.1f'), '.', ',')", "title": "E (V vs RHE)", "labelFontSize": 10, "titleFontSize": 9.5, "labelPadding": 3, "titlePadding": 6}},
        "y": {"field": "y", "type": "quantitative", "scale": {"domain": [-1.35, 6.86], "nice": false}, "axis": {"values": [0, 2, 4, 6], "format": "d", "title": "I (mA.cm⁻²)", "labelFontSize": 10, "titleFontSize": 9, "minExtent": 12, "maxExtent": 12, "titlePadding": 24}},
        "color": {"field": "s", "type": "nominal", "scale": {"domain": ["before CPE", "after 20h CPE at 1.81 V", "after 48h CPE at 1.81 V", "after 1st ERE", "after 2nd ERE"], "range": ["#2db34a", "#222222", "#6e2a72", "#f02020", "#1f2c9c"]}, "legend": {"title": null, "orient": "none", "legendX": 13, "legendY": -6, "labelFontSize": 10, "symbolSize": 196, "rowPadding": -4}},
        "order": {"field": "o", "type": "quantitative"}
       }},
      {"data": {"name": "carr"}, "transform": [{"filter": "datum.id == 'bl'"}], "mark": {"type": "rule", "color": "#1f3590", "strokeWidth": 2}, "encoding": {"x": {"field": "x", "type": "quantitative"}, "y": {"field": "y", "type": "quantitative"}, "x2": {"field": "x2"}, "y2": {"field": "y2"}}},
      {"data": {"name": "carr"}, "transform": [{"filter": "datum.id == 'bl'"}], "mark": {"type": "point", "shape": "triangle-right", "angle": -18, "filled": true, "color": "#1f3590", "size": 45, "opacity": 1}, "encoding": {"x": {"field": "x2", "type": "quantitative"}, "y": {"field": "y2", "type": "quantitative"}}},
      {"data": {"name": "carr"}, "transform": [{"filter": "datum.id == 'k'"}], "mark": {"type": "rule", "color": "#111111", "strokeWidth": 2}, "encoding": {"x": {"field": "x", "type": "quantitative"}, "y": {"field": "y", "type": "quantitative"}, "x2": {"field": "x2"}, "y2": {"field": "y2"}}},
      {"data": {"name": "carr"}, "transform": [{"filter": "datum.id == 'k'"}], "mark": {"type": "point", "shape": "triangle-up", "filled": true, "color": "#111111", "size": 35, "opacity": 1}, "encoding": {"x": {"field": "x2", "type": "quantitative"}, "y": {"field": "y2", "type": "quantitative"}}},
      {"data": {"name": "carr"}, "transform": [{"filter": "datum.id == 'r'"}], "mark": {"type": "rule", "color": "#ee2a2a", "strokeWidth": 1.2}, "encoding": {"x": {"field": "x", "type": "quantitative"}, "y": {"field": "y", "type": "quantitative"}, "x2": {"field": "x2"}, "y2": {"field": "y2"}}},
      {"data": {"name": "carr"}, "transform": [{"filter": "datum.id == 'r'"}], "mark": {"type": "point", "shape": "triangle-down", "filled": true, "color": "#ee2a2a", "size": 30, "opacity": 1}, "encoding": {"x": {"field": "x2", "type": "quantitative"}, "y": {"field": "y2", "type": "quantitative"}}}
     ]
    },
    {"width": 193, "height": 153,
     "title": {"text": "f", "dx": 9, "offset": -25},
     "layer": [
      {"data": {"name": "fdash"}, "mark": {"type": "rule", "color": "#e0502a", "strokeWidth": 1.5, "strokeDash": [9, 5]},
       "encoding": {
        "x": {"field": "x", "type": "quantitative", "scale": {"domain": [-1.102, 1.09], "nice": false, "zero": false}, "axis": {"values": [-1, -0.5, 0, 0.5, 1], "labelExpr": "replace(replace(format(datum.value, datum.value % 1 == 0 ? 'd' : '.1f'), '.', ','), '−', '-')", "title": "E (V vs RHE)", "labelFontSize": 10.5, "titleFontSize": 10, "labelPadding": 3, "titlePadding": 8}},
        "y": {"field": "y", "type": "quantitative", "scale": {"domain": [-9.37, 1.09], "nice": false}, "axis": {"values": [-8, -6, -4, -2, 0], "labelExpr": "replace(format(datum.value, 'd'), '−', '-')", "title": "I (mA.cm⁻²)", "labelFontSize": 10.5, "titleFontSize": 9, "minExtent": 15, "maxExtent": 15, "titlePadding": 9}},
        "y2": {"field": "y2"}
       }},
      {"data": {"name": "f"}, "mark": {"type": "line", "strokeWidth": 1.5},
       "encoding": {
        "x": {"field": "x", "type": "quantitative"},
        "y": {"field": "y", "type": "quantitative"},
        "color": {"field": "s", "type": "nominal", "scale": {"domain": ["RuPFCC after 8 h of WO at 1.7 V", "after 3h of HER at -0.78 V", "after 2nd 3 h of HER at -0.78 V"], "range": ["#3a3a3a", "#f03a3a", "#2f86dd"]}, "legend": {"title": null, "orient": "none", "legendX": 42, "legendY": 88, "labelFontSize": 10, "symbolSize": 225, "rowPadding": -7}},
        "order": {"field": "o", "type": "quantitative"}
       }},
      {"data": {"name": "farr"}, "mark": {"type": "rule", "color": "#1f2f7f", "strokeWidth": 2}, "encoding": {"x": {"field": "x", "type": "quantitative"}, "y": {"field": "y", "type": "quantitative"}, "x2": {"field": "x2"}, "y2": {"field": "y2"}}},
      {"data": {"name": "farr"}, "mark": {"type": "point", "shape": "triangle-right", "angle": 154, "filled": true, "color": "#1f2f7f", "size": 45, "opacity": 1}, "encoding": {"x": {"field": "x2", "type": "quantitative"}, "y": {"field": "y2", "type": "quantitative"}}}
     ]
    }
   ], "columns": 1, "align": "none", "spacing": 48,
   "resolve": {"scale": {"x": "independent", "y": "independent", "color": "independent"}, "axis": {"x": "independent", "y": "independent"}, "legend": {"color": "independent"}}
  }
  ], "spacing": -17,
  "resolve": {"scale": {"x": "independent", "y": "independent", "color": "independent"}, "axis": {"x": "independent", "y": "independent"}, "legend": {"color": "independent"}}
  }
],
"spacing": 6,
"resolve": {"scale": {"x": "independent", "y": "independent", "color": "independent"}, "axis": {"x": "independent", "y": "independent"}, "legend": {"color": "independent"}}
}
